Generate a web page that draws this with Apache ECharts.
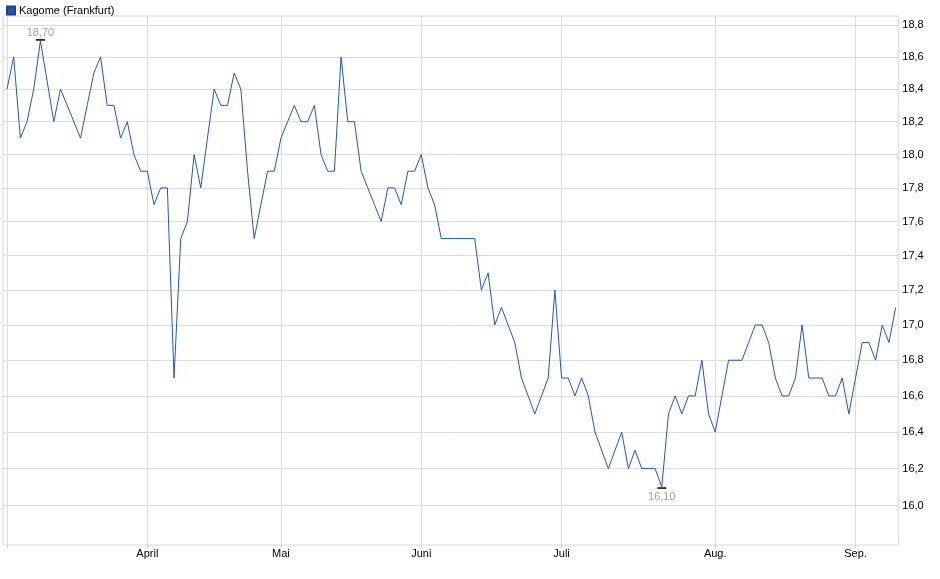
<!DOCTYPE html>
<html>
<head>
<meta charset="utf-8">
<script src="https://cdn.jsdelivr.net/npm/echarts@6/dist/echarts.min.js"></script>
<style>
html, body { margin: 0; padding: 0; background: #fff; }
#chart { width: 940px; height: 579px; }
</style>
</head>
<body>
<div id="chart"></div>
<script>
// Kagome (Frankfurt), daily closes, one entry per trading day (March .. early September)
var prices = [
    18.4, 18.6, 18.1, 18.2, 18.4, 18.7, 18.45, 18.2, 18.4, 18.3,
    18.2, 18.1, 18.3, 18.5, 18.6, 18.3, 18.3, 18.1, 18.2, 18.0,
    17.9, 17.9, 17.7, 17.8, 17.8, 16.7, 17.5, 17.6, 18.0, 17.8,
    18.1, 18.4, 18.3, 18.3, 18.5, 18.4, 17.9, 17.5, 17.7, 17.9,
    17.9, 18.1, 18.2, 18.3, 18.2, 18.2, 18.3, 18.0, 17.9, 17.9,
    18.6, 18.2, 18.2, 17.9, 17.8, 17.7, 17.6, 17.8, 17.8, 17.7,
    17.9, 17.9, 18.0, 17.8, 17.7, 17.5, 17.5, 17.5, 17.5, 17.5,
    17.5, 17.2, 17.3, 17.0, 17.1, 17.0, 16.9, 16.7, 16.6, 16.5,
    16.6, 16.7, 17.2, 16.7, 16.7, 16.6, 16.7, 16.6, 16.4, 16.3,
    16.2, 16.3, 16.4, 16.2, 16.3, 16.2, 16.2, 16.2, 16.1, 16.5,
    16.6, 16.5, 16.6, 16.6, 16.8, 16.5, 16.4, 16.6, 16.8, 16.8,
    16.8, 16.9, 17.0, 17.0, 16.9, 16.7, 16.6, 16.6, 16.7, 17.0,
    16.7, 16.7, 16.7, 16.6, 16.6, 16.7, 16.5, 16.7, 16.9, 16.9,
    16.8, 17.0, 16.9, 17.1
];

// index of the first trading day of each month and its label
var monthStarts = [0, 21, 41, 62, 83, 106, 127];
var monthLabels = ['', 'April', 'Mai', 'Juni', 'Juli', 'Aug.', 'Sep.'];

// price grid (the axis is logarithmic)
var priceTicks = [16.0, 16.2, 16.4, 16.6, 16.8, 17.0, 17.2, 17.4, 17.6, 17.8, 18.0, 18.2, 18.4, 18.6, 18.8];
var priceLow = 15.79;
var priceHigh = 18.857;

function fmt(v, digits)
{
    return Math.exp(v).toFixed(digits).replace('.', ',');
}

var seriesData = prices.map(function(p, i) { return [i, Math.log(p)]; });

var myChart = echarts.init(document.getElementById('chart'));

option = {
    animation: false,
    backgroundColor: '#fff',
    textStyle: { fontFamily: 'Liberation Sans, Arial, sans-serif' },
    legend: {
        left: 1,
        top: 0,
        itemWidth: 8,
        itemHeight: 8,
        itemGap: 4,
        icon: 'rect',
        textStyle: { fontSize: 11, color: '#000', padding: [0, 0, 0, -1] },
        data: ['Kagome (Frankfurt)']
    },
    grid: {
        left: 3,
        right: 41.7,
        top: 16,
        bottom: 34,
        show: true,
        borderColor: '#d8d8d8',
        borderWidth: 1,
        containLabel: false
    },
    xAxis: {
        type: 'value',
        min: -0.6,
        max: 133.4,
        axisLine: { show: false },
        axisTick: {
            show: true,
            length: 3,
            lineStyle: { color: '#d0d0d0' },
            customValues: monthStarts
        },
        axisLabel: {
            customValues: monthStarts.slice(1),
            margin: 3,
            fontSize: 11,
            color: '#000',
            formatter: function(v)
            {
                var k = monthStarts.indexOf(Math.round(v));
                return k >= 0 ? monthLabels[k] : '';
            }
        },
        splitLine: { show: true, lineStyle: { color: '#dcdcdc', width: 1 } }
    },
    yAxis: {
        type: 'value',
        position: 'right',
        min: Math.log(priceLow),
        max: Math.log(priceHigh),
        axisLine: { show: false },
        axisTick: {
            show: false,
            customValues: priceTicks.map(function(p) { return Math.log(p); })
        },
        axisLabel: {
            customValues: priceTicks.map(function(p) { return Math.log(p); }),
            margin: 4,
            fontSize: 11,
            color: '#000',
            formatter: function(v) { return fmt(v, 1); }
        },
        splitLine: { show: true, lineStyle: { color: '#dcdcdc', width: 1 } }
    },
    series: [
        {
            name: 'Kagome (Frankfurt)',
            type: 'line',
            data: seriesData,
            symbol: 'none',
            lineStyle: { color: '#1c58c4', width: 1 },
            itemStyle: { color: '#1c58c4', borderColor: '#2a3f73', borderWidth: 1 },
            markPoint: {
                symbol: 'rect',
                symbolSize: [9, 1.5],
                itemStyle: { color: '#000' },
                label: {
                    fontSize: 11,
                    color: '#a8a49c',
                    formatter: function(p) { return fmt(p.value, 2); }
                },
                data: [
                    { type: 'max', symbolOffset: [0, -1], label: { position: 'top', distance: 1 } },
                    { type: 'min', symbolOffset: [0, 1], label: { position: 'bottom', distance: 3 } }
                ]
            }
        }
    ]
};

myChart.setOption(option);
</script>
</body>
</html>
